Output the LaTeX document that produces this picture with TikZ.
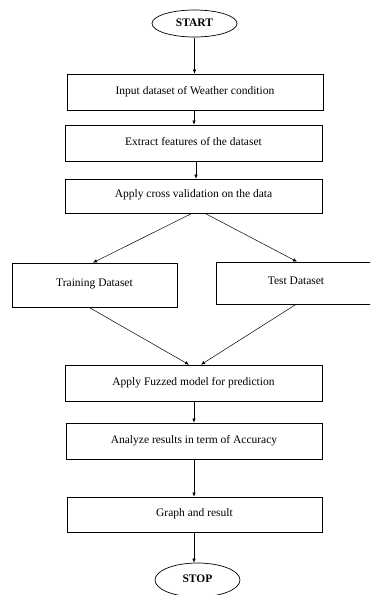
\documentclass[tikz,border=0pt]{standalone}
\usepackage{fontspec}
\setmainfont{Liberation Serif}
\usetikzlibrary{shapes.geometric,arrows.meta}
\newcommand{\up}[1]{\raisebox{4pt}{#1}}
\begin{document}
\begin{tikzpicture}[x=1pt,y=-1pt,
  box/.style={draw,line width=0.7pt,rectangle,inner sep=0pt,font=\fontsize{11.5}{13}\selectfont},
  term/.style={draw,line width=0.7pt,ellipse,inner sep=0pt,font=\fontsize{11.5}{13}\selectfont\bfseries},
  arr/.style={line width=0.6pt,-{Latex[length=4pt,width=3.5pt]}},
  darr/.style={line width=0.5pt,-{Latex[length=4pt,width=3.5pt]}}]
\useasboundingbox (0,0) rectangle (370,595);
\clip (0,0) rectangle (370,595);
\node[term,minimum width=85pt,minimum height=27pt] (start) at (194.5,23.5) {\raisebox{1pt}{START}};
\node[box,minimum width=256pt,minimum height=36pt] (b1) at (195,92) {\up{Input dataset of Weather condition}};
\node[box,minimum width=257pt,minimum height=36pt] (b2) at (193.5,143) {\up{Extract features of the dataset}};
\node[box,minimum width=257pt,minimum height=34pt] (b3) at (193.5,196) {\up{Apply cross validation on the data}};
\node[box,minimum width=165pt,minimum height=44pt] (tr) at (94.5,285) {\up{Training Dataset}};
\node[box,minimum width=160pt,minimum height=42pt] (te) at (296,283) {\up{Test Dataset}};
\node[box,minimum width=257pt,minimum height=36pt] (b4) at (193.5,383) {\up{Apply Fuzzed model for prediction}};
\node[box,minimum width=256pt,minimum height=36pt] (b5) at (194,441) {\up{Analyze results in term of Accuracy}};
\node[box,minimum width=255pt,minimum height=35pt] (b6) at (194.5,514.5) {\up{Graph and result}};
\node[term,minimum width=85pt,minimum height=34pt] (stop) at (197.5,580) {\raisebox{2pt}{STOP}};
\draw[arr] ([yshift=-1pt]start.south) -- (start.south |- b1.north);
\draw[arr] ([xshift=-1pt]b1.south) -- ([xshift=-1pt]b1.south |- b2.north);
\draw[arr] ([xshift=2.5pt]b2.south) -- ([xshift=2.5pt]b2.south |- b3.north);
\draw[darr] ([xshift=-1.5pt]b3.south) -- ([xshift=-1.5pt]tr.north);
\draw[darr] ([xshift=11.5pt]b3.south) -- ([xshift=1pt]te.north);
\draw[darr] ([xshift=-5.5pt]tr.south) -- ([xshift=-4.5pt]b4.north);
\draw[darr] (te.south) -- ([xshift=7.5pt]b4.north);
\draw[arr] ([xshift=0.5pt]b4.south) -- ([xshift=0.5pt]b4.south |- b5.north);
\draw[arr] (b5.south) -- (b5.south |- b6.north);
\draw[arr] ([xshift=-0.5pt]b6.south) -- ([xshift=-0.5pt]b6.south |- stop.north);
\end{tikzpicture}
\end{document}
